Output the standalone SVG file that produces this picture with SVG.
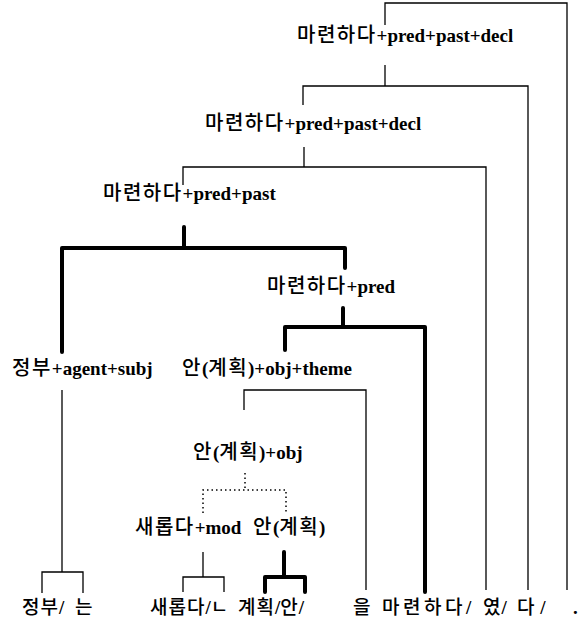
<svg xmlns="http://www.w3.org/2000/svg" width="584" height="620" viewBox="0 0 584 620">
<style>
  .lbl { font-family: "Liberation Serif", "Noto Sans CJK KR", serif; font-size: 19px; font-weight: bold; fill: #000; }
  .ko { font-family: "Noto Sans CJK KR", "Liberation Serif", sans-serif; font-size: 20px; font-weight: 500; letter-spacing: 1.5px; }
  .kb { font-family: "Noto Sans CJK KR", "Liberation Serif", sans-serif; font-size: 19px; font-weight: 500; letter-spacing: 1px; }
  .thin { fill: none; stroke: #000; stroke-width: 1.3; }
  .thick { fill: none; stroke: #000; stroke-width: 4; stroke-linejoin: round; stroke-linecap: round; }
  .dot { fill: none; stroke: #000; stroke-width: 1.5; stroke-dasharray: 1.5 3; }
</style>
<rect width="584" height="620" fill="#fff"/>
<g id="connectors">
  <path class="thin" d="M385,25 V3 H567 V590"/>
  <path class="thin" d="M385,65 V86"/>
  <path class="thin" d="M303,105 V86 H528 V590"/>
  <path class="thin" d="M304,147 V167"/>
  <path class="thin" d="M183,185 V167 H486 V590"/>
  <path class="thick" d="M184,227 V248"/>
  <path class="thick" d="M62,352 V248 H345 V268"/>
  <path class="thick" d="M343,308 V327"/>
  <path class="thick" d="M285,350 V327 H425 V592"/>
  <path class="thin" d="M62,390 V572"/>
  <path class="thin" d="M42,593 V572 H83 V593"/>
  <path class="thin" d="M244,410 V390 H366 V590"/>
  <path class="dot" d="M245,473 V490"/>
  <path class="dot" d="M203,513 V490 H286 V513"/>
  <path class="thin" d="M203,552 V577"/>
  <path class="thin" d="M183,592 V577 H224 V592"/>
  <path class="thick" d="M284,552 V577"/>
  <path class="thick" d="M265,592 V577 H305 V592"/>
</g>
<g id="n-decl2"><text class="lbl" x="297" y="42"><tspan class="ko">마련하다</tspan>+pred+past+decl</text></g>
<g id="n-decl1"><text class="lbl" x="205" y="130"><tspan class="ko">마련하다</tspan>+pred+past+decl</text></g>
<g id="n-past"><text class="lbl" x="103" y="200"><tspan class="ko">마련하다</tspan>+pred+past</text></g>
<g id="n-pred"><text class="lbl" x="267" y="293"><tspan class="ko">마련하다</tspan>+pred</text></g>
<g id="n-subj"><text class="lbl" x="12" y="375"><tspan class="ko">정부</tspan>+agent+subj</text></g>
<g id="n-theme"><text class="lbl" x="182" y="375"><tspan class="ko">안</tspan>(<tspan class="ko">계획</tspan>)+obj+theme</text></g>
<g id="n-obj"><text class="lbl" x="193" y="459"><tspan class="ko">안</tspan>(<tspan class="ko">계획</tspan>)+obj</text></g>
<g id="n-mod"><text class="lbl" x="135" y="534"><tspan class="ko">새롭다</tspan>+mod</text></g>
<g id="n-an"><text class="lbl" x="253" y="534"><tspan class="ko">안</tspan>(<tspan class="ko">계획</tspan>)</text></g>
<g id="n-words">
  <text class="lbl" x="22" y="614"><tspan class="kb">정부</tspan>/ <tspan class="kb" dx="6">는</tspan></text>
  <text class="lbl" x="150" y="614"><tspan class="kb">새롭다</tspan>/<tspan class="kb">ㄴ</tspan></text>
  <text class="lbl" x="238" y="614"><tspan class="kb">계획</tspan>/<tspan class="kb">안</tspan>/</text>
  <text class="lbl" x="353" y="614"><tspan class="kb">을</tspan></text>
  <text class="lbl" x="382" y="614"><tspan class="kb" style="letter-spacing:3.5px">마련하다</tspan>/</text>
  <text class="lbl" x="483" y="614"><tspan class="kb">였</tspan>/</text>
  <text class="lbl" x="517" y="614"><tspan class="kb">다</tspan> /</text>
  <text class="lbl" x="573" y="614">.</text>
</g>
</svg>
